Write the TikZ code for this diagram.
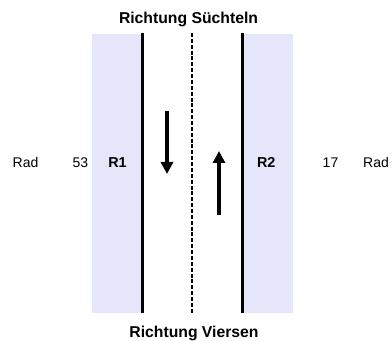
\documentclass[tikz,border=0pt]{standalone}
\usepackage{fontspec}
\setmainfont{Liberation Sans}
\usetikzlibrary{arrows.meta}
\definecolor{bandcol}{RGB}{230,230,251}
\begin{document}
\begin{tikzpicture}[x=0.75pt,y=-0.75pt,
  band/.style={fill=bandcol,draw=none},
  edge/.style={line width=2pt,black},
  mid/.style={line width=1.6pt,black,dash pattern=on 3pt off 1.4pt},
  dirarrow/.style={line width=2.5pt,-{Triangle[width=9pt,length=9pt]}},
  lbl/.style={font=\fontsize{10.5pt}{12pt}\selectfont,anchor=base,inner sep=0pt},
  lblb/.style={font=\fontsize{10.8pt}{12pt}\selectfont\bfseries,anchor=base,inner sep=0pt},
  title/.style={font=\fontsize{11.8pt}{14pt}\selectfont\bfseries,anchor=base,inner sep=0pt}]
\useasboundingbox (0,0) rectangle (392,341);
% bands
\fill[band] (92,34) rectangle (142,313);
\fill[band] (243,34) rectangle (293,313);
% road edge lines
\coordinate (lt) at (142.5,33);
\coordinate (lb) at (142.5,313);
\coordinate (mt) at (192.3,33);
\coordinate (mb) at (192.3,313);
\coordinate (rt) at (242.8,33);
\coordinate (rb) at (242.8,313);
\draw[edge] (lt) -- (lb);
\draw[mid] (mt) -- (mb);
\draw[edge] (rt) -- (rb);
% arrows
\coordinate (a1s) at (167,111);
\coordinate (a1e) at (167,174);
\coordinate (a2s) at (219,215);
\coordinate (a2e) at (219,151);
\draw[dirarrow] (a1s) -- (a1e);
\draw[dirarrow] (a2s) -- (a2e);
% texts
\node[title] (top) at (188.5,23.5) {Richtung Süchteln};
\node[title] (bot) at (194,338) {Richtung Viersen};
\node[lbl] (radl) at (25.5,167.5) {Rad};
\node[lbl] (n53) at (80.5,167.5) {53};
\node[lblb] (r1) at (117.5,167.5) {R1};
\node[lblb] (r2) at (266.3,167.5) {R2};
\node[lbl] (n17) at (330.5,167.5) {17};
\node[lbl] (radr) at (376,167.5) {Rad};
\end{tikzpicture}
\end{document}
